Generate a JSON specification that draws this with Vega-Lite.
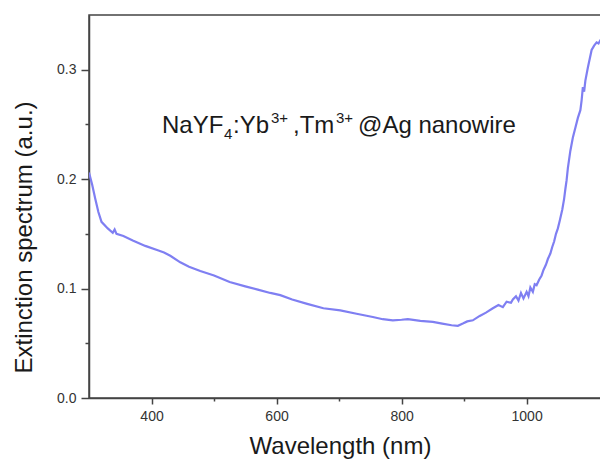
{
  "$schema": "https://vega.github.io/schema/vega-lite/v6.json",
  "width": 512,
  "height": 383,
  "autosize": {"type": "none"},
  "padding": {"left": 89, "top": 15, "right": 0, "bottom": 68},
  "background": "white",
  "config": {
    "font": "Liberation Sans",
    "view": {"stroke": "#444", "strokeWidth": 1.5},
    "text": {"font": "Liberation Sans", "color": "#1a1a1a", "align": "left", "baseline": "alphabetic"},
    "axis": {
      "domainColor": "#444", "domainWidth": 1.5, "tickColor": "#444", "tickWidth": 1.5,
      "labelFont": "Liberation Sans", "labelFontSize": 14, "labelColor": "#333",
      "titleFont": "Liberation Sans", "titleFontSize": 24, "titleFontWeight": "normal", "titleColor": "#1a1a1a",
      "grid": false
    }
  },
  "datasets": {
    "annot": [{"x": 416.8, "y": 0.242}]
  },
  "layer": [
    {
      "data": {"values": [
        {"wavelength": 300, "ext": 0.206}, {"wavelength": 305, "ext": 0.195}, {"wavelength": 310, "ext": 0.182},
        {"wavelength": 315, "ext": 0.170}, {"wavelength": 320, "ext": 0.161}, {"wavelength": 330, "ext": 0.155},
        {"wavelength": 338, "ext": 0.151}, {"wavelength": 341, "ext": 0.154}, {"wavelength": 344, "ext": 0.150},
        {"wavelength": 355, "ext": 0.148}, {"wavelength": 370, "ext": 0.144}, {"wavelength": 390, "ext": 0.139},
        {"wavelength": 410, "ext": 0.135}, {"wavelength": 420, "ext": 0.133}, {"wavelength": 430, "ext": 0.130},
        {"wavelength": 446, "ext": 0.124}, {"wavelength": 460, "ext": 0.120}, {"wavelength": 478, "ext": 0.116},
        {"wavelength": 500, "ext": 0.112}, {"wavelength": 525, "ext": 0.106}, {"wavelength": 550, "ext": 0.102},
        {"wavelength": 570, "ext": 0.099}, {"wavelength": 590, "ext": 0.096}, {"wavelength": 606, "ext": 0.094},
        {"wavelength": 625, "ext": 0.090}, {"wavelength": 649, "ext": 0.086}, {"wavelength": 675, "ext": 0.082},
        {"wavelength": 702, "ext": 0.080}, {"wavelength": 728, "ext": 0.077}, {"wavelength": 754, "ext": 0.074},
        {"wavelength": 770, "ext": 0.072}, {"wavelength": 786, "ext": 0.071}, {"wavelength": 800, "ext": 0.0715},
        {"wavelength": 810, "ext": 0.072}, {"wavelength": 830, "ext": 0.0705}, {"wavelength": 850, "ext": 0.0695},
        {"wavelength": 865, "ext": 0.068}, {"wavelength": 880, "ext": 0.0665}, {"wavelength": 890, "ext": 0.066},
        {"wavelength": 898, "ext": 0.068}, {"wavelength": 905, "ext": 0.070}, {"wavelength": 914, "ext": 0.071},
        {"wavelength": 925, "ext": 0.075}, {"wavelength": 935, "ext": 0.078}, {"wavelength": 946, "ext": 0.082},
        {"wavelength": 955, "ext": 0.085}, {"wavelength": 962, "ext": 0.083}, {"wavelength": 968, "ext": 0.088},
        {"wavelength": 975, "ext": 0.087}, {"wavelength": 978, "ext": 0.090}, {"wavelength": 983, "ext": 0.093},
        {"wavelength": 987, "ext": 0.089}, {"wavelength": 991, "ext": 0.096}, {"wavelength": 995, "ext": 0.091},
        {"wavelength": 1000, "ext": 0.097}, {"wavelength": 1003, "ext": 0.093}, {"wavelength": 1006, "ext": 0.101},
        {"wavelength": 1010, "ext": 0.097}, {"wavelength": 1013, "ext": 0.104}, {"wavelength": 1016, "ext": 0.103},
        {"wavelength": 1020, "ext": 0.108}, {"wavelength": 1024, "ext": 0.112}, {"wavelength": 1027, "ext": 0.117},
        {"wavelength": 1031, "ext": 0.122}, {"wavelength": 1034, "ext": 0.127}, {"wavelength": 1038, "ext": 0.132},
        {"wavelength": 1041, "ext": 0.138}, {"wavelength": 1044, "ext": 0.143}, {"wavelength": 1047, "ext": 0.150},
        {"wavelength": 1050, "ext": 0.155}, {"wavelength": 1053, "ext": 0.162}, {"wavelength": 1057, "ext": 0.172},
        {"wavelength": 1060, "ext": 0.182}, {"wavelength": 1062, "ext": 0.191}, {"wavelength": 1064, "ext": 0.199},
        {"wavelength": 1066, "ext": 0.210}, {"wavelength": 1070, "ext": 0.226}, {"wavelength": 1074, "ext": 0.238},
        {"wavelength": 1078, "ext": 0.247}, {"wavelength": 1082, "ext": 0.256}, {"wavelength": 1086, "ext": 0.263},
        {"wavelength": 1088, "ext": 0.272}, {"wavelength": 1090, "ext": 0.284}, {"wavelength": 1092, "ext": 0.280},
        {"wavelength": 1094, "ext": 0.290}, {"wavelength": 1098, "ext": 0.302}, {"wavelength": 1101, "ext": 0.310},
        {"wavelength": 1104, "ext": 0.318}, {"wavelength": 1108, "ext": 0.322}, {"wavelength": 1112, "ext": 0.325},
        {"wavelength": 1115, "ext": 0.324}, {"wavelength": 1118, "ext": 0.327}, {"wavelength": 1120, "ext": 0.328}
      ]},
      "mark": {"type": "line", "color": "#7f7ff2", "strokeWidth": 2.2, "clip": true},
      "encoding": {
        "x": {
          "field": "wavelength", "type": "quantitative",
          "scale": {"domain": [300, 1119], "nice": false, "zero": false},
          "axis": {
            "title": "Wavelength (nm)",
            "values": [400, 500, 600, 700, 800, 900, 1000],
            "labelExpr": "datum.value % 200 == 0 ? datum.label : ''",
            "format": "d",
            "tickSize": {"condition": {"test": "datum.value % 200 == 0", "value": 6}, "value": 3},
            "labelPadding": 5,
            "titleX": 251, "titleY": 48, "titleBaseline": "middle", "titleAlign": "center"
          }
        },
        "y": {
          "field": "ext", "type": "quantitative",
          "scale": {"domain": [0, 0.35], "nice": false},
          "axis": {
            "title": "Extinction spectrum (a.u.)",
            "values": [0, 0.05, 0.1, 0.15, 0.2, 0.25, 0.3],
            "labelExpr": "indexof([0, 0.1, 0.2, 0.3], datum.value) >= 0 ? format(datum.value, '.1f') : ''",
            "tickSize": {"condition": {"test": "indexof([0, 0.1, 0.2, 0.3], datum.value) >= 0", "value": 8}, "value": 4},
            "labelPadding": 5,
            "titleX": -65, "titleY": 222, "titleBaseline": "middle", "titleAlign": "center", "titleAngle": -90
          }
        }
      }
    },
    {
      "data": {"name": "annot"},
      "mark": {"type": "text", "text": "NaYF", "fontSize": 24, "dx": 0},
      "encoding": {"x": {"field": "x", "type": "quantitative"}, "y": {"field": "y", "type": "quantitative"}}
    },
    {
      "data": {"name": "annot"},
      "mark": {"type": "text", "text": "4", "fontSize": 15, "dx": 62, "dy": 6},
      "encoding": {"x": {"field": "x", "type": "quantitative"}, "y": {"field": "y", "type": "quantitative"}}
    },
    {
      "data": {"name": "annot"},
      "mark": {"type": "text", "text": ":Yb", "fontSize": 24, "dx": 71},
      "encoding": {"x": {"field": "x", "type": "quantitative"}, "y": {"field": "y", "type": "quantitative"}}
    },
    {
      "data": {"name": "annot"},
      "mark": {"type": "text", "text": "3+", "fontSize": 15, "dx": 109, "dy": -10},
      "encoding": {"x": {"field": "x", "type": "quantitative"}, "y": {"field": "y", "type": "quantitative"}}
    },
    {
      "data": {"name": "annot"},
      "mark": {"type": "text", "text": ",Tm", "fontSize": 24, "dx": 131},
      "encoding": {"x": {"field": "x", "type": "quantitative"}, "y": {"field": "y", "type": "quantitative"}}
    },
    {
      "data": {"name": "annot"},
      "mark": {"type": "text", "text": "3+", "fontSize": 15, "dx": 174, "dy": -10},
      "encoding": {"x": {"field": "x", "type": "quantitative"}, "y": {"field": "y", "type": "quantitative"}}
    },
    {
      "data": {"name": "annot"},
      "mark": {"type": "text", "text": "@Ag nanowire", "fontSize": 24, "dx": 196},
      "encoding": {"x": {"field": "x", "type": "quantitative"}, "y": {"field": "y", "type": "quantitative"}}
    }
  ]
}
